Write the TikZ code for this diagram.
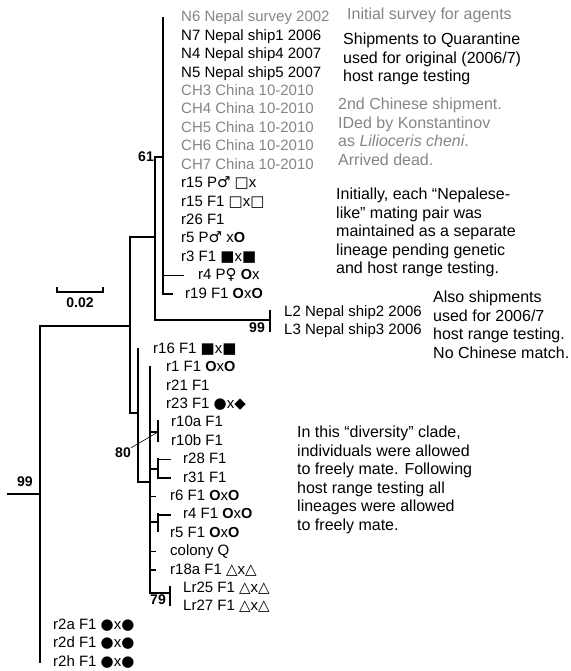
\documentclass[tikz,border=0pt]{standalone}
\usepackage{fontspec}
\setmainfont{Liberation Sans}
\newfontfamily\symf{DejaVu Sans}

\definecolor{surveygray}{gray}{0.52}
\newcommand{\leaffont}{\fontsize{15}{18}\selectfont}
\newcommand{\notefont}{\fontsize{16}{18.5}\selectfont}
\newcommand{\bootfont}{\fontsize{14}{16}\selectfont\bfseries}
% mating symbols
\newcommand{\Sqo}{{\symf □}}
\newcommand{\Sqf}{{\symf ■}}
\newcommand{\Cio}{{\fontsize{14.5}{16}\selectfont\bfseries O}}
\newcommand{\Cif}{{\symf ●}}
\newcommand{\Dif}{{\symf ◆}}
\newcommand{\Tro}{{\symf △}}
\newcommand{\sexM}{{\symf ♂}}
\newcommand{\sexF}{{\symf ♀}}

\begin{document}
\begin{tikzpicture}[x=1pt,y=-1pt,
  vbranch/.style={line width=2.8pt,line cap=rect},
  hbranch/.style={line width=1.7pt,line cap=rect},
  leaf/.style={anchor=west,inner sep=0pt,text height=11pt,text depth=3pt,font=\leaffont},
  boot/.style={inner sep=0pt,font=\bootfont},
  note/.style={anchor=north west,inner sep=0pt,align=left,font=\notefont}]
\useasboundingbox (0,0) rectangle (570,671);

% tree points
\coordinate (stem) at (8,494);
\coordinate (root) at (40,494);
\coordinate (rootT) at (40,326);
\coordinate (rootB) at (40,662);
\coordinate (n1) at (130,326);
\coordinate (n1T) at (130,237);
\coordinate (n1B) at (130,413);
\coordinate (n2) at (155,237);
\coordinate (n2T) at (155,157);
\coordinate (n2B) at (155,320);
\coordinate (n3) at (163,157);
\coordinate (n3T) at (163,18);
\coordinate (n3B) at (163,294);
\coordinate (r4e) at (183,275.6);
\coordinate (r19e) at (172,294);
\coordinate (nL) at (270,320);
\coordinate (nLT) at (270,311);
\coordinate (nLB) at (270,331);
\coordinate (n4) at (138,413);
\coordinate (n4T) at (138,349.2);
\coordinate (n4B) at (138,482);
\coordinate (n5) at (150,482);
\coordinate (n5T) at (150,367.6);
\coordinate (n5B) at (150,593);
\coordinate (n10) at (158,432);
\coordinate (n10T) at (158,421);
\coordinate (n10B) at (158,441);
\coordinate (n28) at (158,469);
\coordinate (n28T) at (158,459.6);
\coordinate (n28B) at (158,478);
\coordinate (r28e) at (170,459.6);
\coordinate (r31e) at (170,478);
\coordinate (r6e) at (155,496.4);
\coordinate (n45) at (158,522);
\coordinate (n45T) at (158,514.8);
\coordinate (n45B) at (158,531);
\coordinate (r4fe) at (170,514.8);
\coordinate (cqe) at (155,551.6);
\coordinate (r18e) at (155,570);
\coordinate (nLr) at (170,593);
\coordinate (nLrT) at (170,587);
\coordinate (nLrB) at (170,605);

% branches
\draw[hbranch] (stem) -- (root);
\draw[vbranch] (rootT) -- (rootB);
\draw[hbranch] (rootT) -- (n1);
\draw[vbranch] (n1T) -- (n1B);
\draw[hbranch] (n1T) -- (n2);
\draw[vbranch] (n2T) -- (n2B);
\draw[hbranch] (n2T) -- (n3);
\draw[vbranch] (n3T) -- (n3B);
\draw[hbranch] (n3 |- r4e) -- (r4e);
\draw[hbranch] (n3B) -- (r19e);
\draw[hbranch] (n2B) -- (nL);
\draw[vbranch] (nLT) -- (nLB);
\draw[hbranch] (n1B) -- (n4);
\draw[vbranch] (n4T) -- (n4B);
\draw[hbranch] (n4B) -- (n5);
\draw[vbranch] (n5T) -- (n5B);
\draw[hbranch] (n5 |- n10) -- (n10);
\draw[vbranch] (n10T) -- (n10B);
\draw[hbranch] (n5 |- n28) -- (n28);
\draw[vbranch] (n28T) -- (n28B);
\draw[hbranch] (n28T) -- (r28e);
\draw[hbranch] (n28B) -- (r31e);
\draw[hbranch] (n5 |- r6e) -- (r6e);
\draw[hbranch] (n5 |- n45) -- (n45);
\draw[vbranch] (n45T) -- (n45B);
\draw[hbranch] (n45T) -- (r4fe);
\draw[hbranch] (n5 |- cqe) -- (cqe);
\draw[hbranch] (n5 |- r18e) -- (r18e);
\draw[hbranch] (n5B) -- (nLr);
\draw[vbranch] (nLrT) -- (nLrB);

% support values
\node[boot,anchor=east] (b61) at (154,157) {61};
\node[boot] (b99L) at (257,328) {99};
\node[boot] (b80) at (123,453) {80};
\node[boot] (b79) at (158,600) {79};
\node[boot] (b99r) at (25,482) {99};
\draw[line width=0.6pt] (b80.north east) -- (n10);

% scale bar
\coordinate (sbL) at (57,292);
\coordinate (sbR) at (103,292);
\draw[line width=1.5pt] (sbL) ++(0,-5) -- (sbL) -- (sbR) -- ++(0,-5);
\node[boot] (scl) at (80,303) {0.02};

% leaves
\node[leaf,text=surveygray] (lN6) at (181,18) {N6 Nepal survey 2002};
\node[leaf] (lN7) at (181,36.4) {N7 Nepal ship1 2006};
\node[leaf] (lN4) at (181,54.8) {N4 Nepal ship4 2007};
\node[leaf] (lN5) at (181,73.2) {N5 Nepal ship5 2007};
\node[leaf,text=surveygray] (lCH3) at (181,91.6) {CH3 China 10-2010};
\node[leaf,text=surveygray] (lCH4) at (181,110) {CH4 China 10-2010};
\node[leaf,text=surveygray] (lCH5) at (181,128.4) {CH5 China 10-2010};
\node[leaf,text=surveygray] (lCH6) at (181,146.8) {CH6 China 10-2010};
\node[leaf,text=surveygray] (lCH7) at (181,165.2) {CH7 China 10-2010};
\node[leaf] (lr15P) at (181,183.6) {r15 P\sexM{} \Sqo{}x};
\node[leaf] (lr15F) at (181,202) {r15 F1 \Sqo{}x\Sqo};
\node[leaf] (lr26) at (181,220.4) {r26 F1};
\node[leaf] (lr5P) at (181,238.8) {r5 P\sexM{} x\Cio};
\node[leaf] (lr3) at (181,257.2) {r3 F1 \Sqf{}x\Sqf};
\node[leaf] (lr4P) at (198,275.6) {r4 P\sexF{} \Cio{}x};
\node[leaf] (lr19) at (185,294) {r19 F1 \Cio{}x\Cio};
\node[leaf] (lL2) at (284,312.4) {L2 Nepal ship2 2006};
\node[leaf] (lL3) at (284,330.8) {L3 Nepal ship3 2006};
\node[leaf] (lr16) at (153,349.2) {r16 F1 \Sqf{}x\Sqf};
\node[leaf] (lr1) at (166,367.6) {r1 F1 \Cio{}x\Cio};
\node[leaf] (lr21) at (166,386) {r21 F1};
\node[leaf] (lr23) at (166,404.4) {r23 F1 \Cif{}x\Dif};
\node[leaf] (lr10a) at (171,422.8) {r10a F1};
\node[leaf] (lr10b) at (171,441.2) {r10b F1};
\node[leaf] (lr28) at (183,459.6) {r28 F1};
\node[leaf] (lr31) at (183,478) {r31 F1};
\node[leaf] (lr6) at (170,496.4) {r6 F1 \Cio{}x\Cio};
\node[leaf] (lr4F) at (183,514.8) {r4 F1 \Cio{}x\Cio};
\node[leaf] (lr5F) at (170,533.2) {r5 F1 \Cio{}x\Cio};
\node[leaf] (lcq) at (170,551.6) {colony Q};
\node[leaf] (lr18a) at (170,570) {r18a F1 \Tro{}x\Tro};
\node[leaf] (lLr25) at (183,588.4) {Lr25 F1 \Tro{}x\Tro};
\node[leaf] (lLr27) at (183,606.8) {Lr27 F1 \Tro{}x\Tro};
\node[leaf] (lr2a) at (53,625.2) {r2a F1 \Cif{}x\Cif};
\node[leaf] (lr2d) at (53,643.6) {r2d F1 \Cif{}x\Cif};
\node[leaf] (lr2h) at (53,662) {r2h F1 \Cif{}x\Cif};

% notes
\node[note,text=surveygray] (nSurvey) at (347,8) {Initial survey for agents};
\node[note] (nShip) at (343,33) {Shipments to Quarantine\\used for original (2006/7)\\host range testing};
\node[note,text=surveygray] (nChina) at (338,98) {2nd Chinese shipment.\\IDed by Konstantinov\\as \textit{Lilioceris cheni}.\\Arrived dead.};
\node[note] (nLine) at (336,188) {Initially, each “Nepalese-\\like” mating pair was\\maintained as a separate\\lineage pending genetic\\and host range testing.};
\node[note] (nAlso) at (433,291) {Also shipments\\used for 2006/7\\host range testing.\\No Chinese match.};
\node[note] (nDiv) at (297,426) {In this “diversity” clade,\\individuals were allowed\\to freely mate. Following\\host range testing all\\lineages were allowed\\to freely mate.};
\end{tikzpicture}
\end{document}
